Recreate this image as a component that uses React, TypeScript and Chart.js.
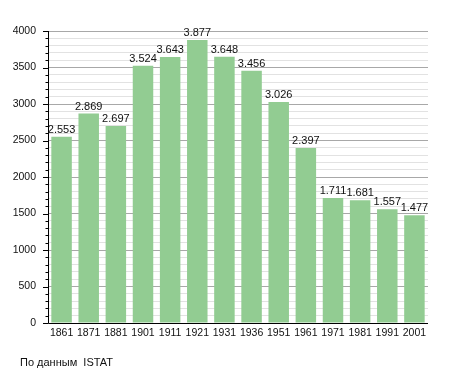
import React, { useEffect, useRef } from "react";
import { Chart, registerables } from "chart.js";

Chart.register(...registerables);

const years = ["1861", "1871", "1881", "1901", "1911", "1921", "1931", "1936", "1951", "1961", "1971", "1981", "1991", "2001"];
const population = [2553, 2869, 2697, 3524, 3643, 3877, 3648, 3456, 3026, 2397, 1711, 1681, 1557, 1477];
const yMax = 4000;
const majorStep = 500;
const minorStep = 100;
const sourceNote = "По данным  ISTAT";

const FONT = "'Liberation Sans', Arial, sans-serif";
const BAR_COLOR = "rgb(146, 204, 146)";
const MAJOR_GRID = "#a8a8a8";
const MINOR_GRID = "#e2e2e2";

function fmt(n: number): string {
  return String(n).replace(/\B(?=(\d{3})+(?!\d))/g, ".");
}

const overlayPlugin = {
  id: "overlay",
  afterDatasetsDraw(chart: any) {
    const { ctx, chartArea, scales } = chart;
    const y = scales.y;
    ctx.save();
    ctx.lineWidth = 1;
    ctx.strokeStyle = "#000";
    for (let v = 0; v <= yMax; v += minorStep) {
      const py = Math.round(y.getPixelForValue(v)) + 0.5;
      const len = v % majorStep === 0 ? 5 : 2.5;
      ctx.beginPath();
      ctx.moveTo(chartArea.left - len, py);
      ctx.lineTo(chartArea.left, py);
      ctx.stroke();
    }
    ctx.beginPath();
    ctx.moveTo(chartArea.left + 0.5, chartArea.top);
    ctx.lineTo(chartArea.left + 0.5, chartArea.bottom + 0.5);
    ctx.lineTo(chartArea.right, chartArea.bottom + 0.5);
    ctx.stroke();
    const meta = chart.getDatasetMeta(0);
    ctx.fillStyle = "#111";
    ctx.font = `11px ${FONT}`;
    ctx.textAlign = "center";
    ctx.textBaseline = "alphabetic";
    meta.data.forEach((bar: any, i: number) => {
      ctx.fillText(fmt(population[i]), bar.x, bar.y - 4);
    });
    ctx.textAlign = "left";
    ctx.font = `11px ${FONT}`;
    ctx.fillText(sourceNote, 20, 366);
    ctx.restore();
  },
};

export default function App() {
  const ref = useRef<HTMLCanvasElement>(null);
  useEffect(() => {
    document.body.style.margin = "0";
    const chart = new Chart(ref.current!, {
      type: "bar",
      data: {
        labels: years,
        datasets: [
          {
            data: population,
            backgroundColor: BAR_COLOR,
            borderWidth: 0,
            barPercentage: 0.755,
            categoryPercentage: 1,
          },
        ],
      },
      options: {
        animation: false,
        responsive: false,
        layout: { padding: { top: 31, right: 27, bottom: 30, left: 0 } },
        plugins: { legend: { display: false }, tooltip: { enabled: false } },
        scales: {
          x: {
            grid: { display: false, drawTicks: false },
            border: { display: false },
            ticks: { color: "#111", font: { family: FONT, size: 10.5 }, padding: 4, maxRotation: 0, autoSkip: false },
            afterFit(scale: any) {
              scale.height = 20;
            },
          },
          y: {
            min: 0,
            max: yMax,
            grid: {
              drawTicks: false,
              color: (c: any) => (c.tick && c.tick.value % majorStep === 0 ? MAJOR_GRID : MINOR_GRID),
            },
            border: { display: false },
            ticks: {
              stepSize: minorStep,
              autoSkip: false,
              padding: 12,
              color: "#111",
              font: { family: FONT, size: 10.5 },
              callback: (v: any) => (Number(v) % majorStep === 0 ? String(v) : ""),
            },
            afterFit(scale: any) {
              scale.width = 48;
            },
          },
        },
      },
      plugins: [overlayPlugin],
    });
    return () => chart.destroy();
  }, []);
  return <canvas ref={ref} width={455} height={373} style={{ display: "block" }} />;
}
